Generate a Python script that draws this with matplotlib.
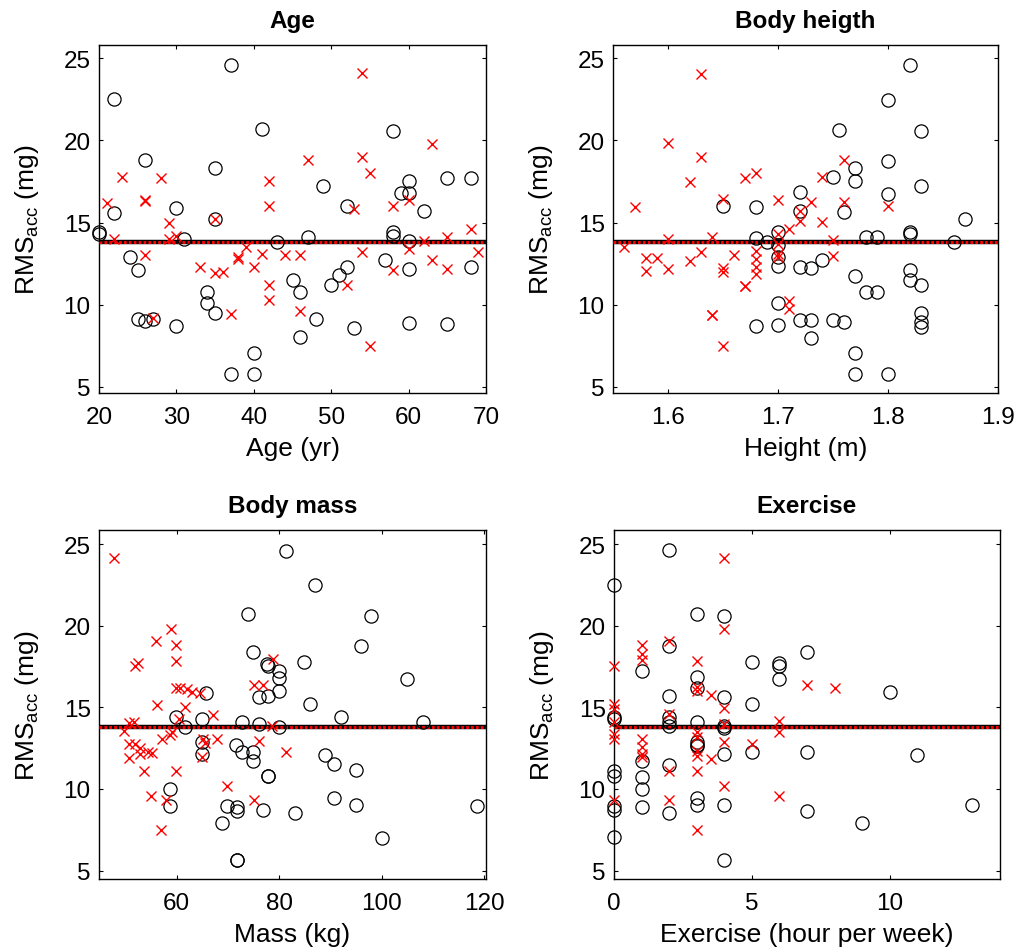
import matplotlib
matplotlib.use("Agg")
import matplotlib.pyplot as plt

plt.rcParams['font.family'] = ['Liberation Sans', 'DejaVu Sans']
plt.rcParams['mathtext.fontset'] = 'custom'
plt.rcParams['mathtext.rm'] = 'Liberation Sans'
plt.rcParams['mathtext.it'] = 'Liberation Sans:italic'

# ---------------- data ----------------
mean_rms = 13.82

# Age panel
age_o = [37, 22, 41, 26, 35, 22, 30, 35, 20, 20, 31, 43, 24, 25, 34, 34, 35, 25, 26, 27, 30, 40, 37, 40,
         58, 49, 60, 59, 60, 65, 68, 52, 62, 58, 58, 60, 47, 57, 60, 68, 52, 51, 50, 45, 46, 48, 53, 60, 65, 46]
rms_age_o = [24.6, 22.5, 20.7, 18.8, 18.3, 15.6, 15.9, 15.2, 14.4, 14.3, 14.0, 13.8, 12.9, 12.1, 10.8, 10.1,
             9.5, 9.1, 9.0, 9.1, 8.7, 7.05, 5.75, 5.75,
             20.6, 17.2, 17.5, 16.8, 16.8, 17.7, 17.7, 16.0, 15.7, 14.4, 14.2, 13.9, 14.1, 12.7, 12.2, 12.3,
             12.3, 11.8, 11.2, 11.5, 10.8, 9.1, 8.6, 8.9, 8.8, 8.0]
age_x = [23, 28, 21, 26, 26, 29, 35, 22, 29, 30, 26, 33, 35, 36, 38, 38, 39, 41, 40, 42, 42, 42, 42, 44, 27, 37,
         54, 63, 47, 54, 55, 53, 58, 60, 68, 65, 62, 60, 54, 69, 46, 63, 65, 58, 52, 46, 55]
rms_age_x = [17.8, 17.7, 16.2, 16.4, 16.3, 15.0, 15.2, 14.0, 14.0, 14.2, 13.0, 12.3, 11.9, 12.0, 12.9, 12.8,
             13.5, 13.1, 12.3, 17.5, 16.0, 11.2, 10.3, 13.0, 9.2, 9.4,
             24.1, 19.8, 18.8, 19.0, 18.0, 15.8, 16.0, 16.4, 14.6, 14.1, 13.9, 13.4, 13.2, 13.2, 13.0, 12.7,
             12.2, 12.1, 11.2, 9.6, 7.5]

# Height panel
height_o = [1.72, 1.65, 1.68, 1.72, 1.68, 1.69, 1.70, 1.70, 1.70, 1.70, 1.72, 1.70, 1.72, 1.68, 1.70,
            1.82, 1.80, 1.755, 1.83, 1.80, 1.77, 1.75, 1.77, 1.83, 1.80, 1.76, 1.87, 1.78, 1.79, 1.82, 1.82,
            1.86, 1.73, 1.74, 1.77, 1.82, 1.82, 1.83, 1.78, 1.79, 1.83, 1.83, 1.83, 1.73, 1.75, 1.76, 1.73,
            1.77, 1.77, 1.80]
rms_height_o = [16.84, 16.03, 15.93, 15.72, 14.04, 13.83, 14.44, 13.63, 12.92, 12.33, 12.29, 10.08, 9.08, 8.68, 8.78,
                24.6, 22.48, 20.66, 20.57, 18.75, 18.34, 17.77, 17.53, 17.25, 16.74, 15.62, 15.2, 14.1, 14.1,
                14.44, 14.32, 13.83, 12.21, 12.72, 11.76, 12.13, 11.53, 11.2, 10.79, 10.79, 9.49, 8.96, 8.62,
                9.08, 9.08, 8.96, 7.97, 7.05, 5.76, 5.76]
height_x = [1.63, 1.60, 1.63, 1.62, 1.67, 1.68, 1.57, 1.65, 1.70, 1.71, 1.72, 1.72, 1.56, 1.60, 1.64, 1.58,
            1.59, 1.58, 1.60, 1.62, 1.63, 1.65, 1.65, 1.66, 1.68, 1.68, 1.68, 1.68, 1.70, 1.70, 1.70, 1.70,
            1.67, 1.67, 1.71, 1.71, 1.64, 1.64, 1.65,
            1.76, 1.74, 1.73, 1.76, 1.80, 1.74, 1.75, 1.75]
rms_height_x = [24.05, 19.84, 19.01, 17.49, 17.71, 18.0, 15.96, 16.43, 16.39, 14.6, 15.72, 15.11, 13.49, 14.0,
                14.1, 12.86, 12.82, 12.05, 12.17, 12.68, 13.19, 12.21, 11.97, 13.0, 13.29, 12.78, 12.27, 11.87,
                14.3, 13.69, 13.08, 12.88, 11.16, 11.16, 10.24, 9.73, 9.37, 9.37, 7.5,
                18.81, 17.79, 16.23, 16.23, 16.03, 15.01, 13.94, 12.98]

# Mass panel
mass_o = [81.4, 74.0, 74.9, 77.7, 77.9, 79.9, 79.9, 79.9, 76.0, 77.9, 65.7, 59.8, 61.6, 64.9, 72.7, 76.0, 79.9,
          65.0, 65.0, 71.6, 72.7, 74.9, 74.9, 77.9, 77.9, 58.7, 58.7, 69.8, 71.7, 71.7, 76.8, 68.8, 71.7, 71.7,
          87.0, 98.0, 96.0, 84.9, 105.0, 86.0, 92.1, 108.0, 88.9, 90.8, 95.1, 90.8, 95.1, 83.0, 100.0, 118.7]
rms_mass_o = [24.6, 20.7, 18.4, 17.65, 17.5, 17.24, 16.8, 16.0, 15.6, 15.7, 15.9, 14.4, 13.8, 14.3, 14.1, 14.0, 13.8,
              12.86, 12.14, 12.7, 12.24, 12.24, 11.73, 10.76, 10.76, 10.0, 8.98, 8.98, 8.92, 8.63, 8.73, 7.92,
              5.67, 5.67,
              22.5, 20.6, 18.76, 17.78, 16.73, 15.2, 14.4, 14.1, 12.1, 11.5, 11.16, 9.45, 9.02, 8.51, 7.0, 8.94]
mass_x = [47.7, 58.8, 56.0, 59.9, 59.9, 51.8, 52.4, 59.9, 60.7, 62.0, 62.9, 64.6, 56.1, 61.6, 60.5, 67.0, 50.7,
          51.7, 49.6, 59.0, 57.1, 58.7, 65.2, 67.8, 65.5, 50.7, 51.8, 52.8, 50.7, 52.8, 54.3, 55.1, 53.6, 59.9,
          65.0, 76.0, 75.0, 76.8, 78.8, 78.6, 69.8, 75.0, 54.9, 57.9, 56.9, 81.4]
rms_mass_x = [24.12, 19.8, 19.04, 18.84, 17.82, 17.55, 17.69, 16.18, 16.18, 16.12, 15.92, 15.86, 15.16, 15.0,
              14.29, 14.55, 14.04, 14.08, 13.53, 13.47, 13.06, 13.31, 13.06, 13.06, 12.8, 12.76, 12.76, 12.51,
              11.9, 12.14, 12.24, 12.18, 11.12, 11.12, 11.94, 12.96, 16.39, 16.39, 17.96, 13.88, 10.2, 9.33,
              9.59, 9.33, 7.49, 12.24]

# Exercise panel
exer_o = [2, 0, 3, 4, 2, 1, 5, 6, 6, 6, 3, 3, 2, 4, 5, 0, 0, 2, 2, 2, 3, 4, 4, 3, 3, 3, 4, 5, 1, 0, 0, 1, 1, 2,
          0, 0, 1, 2, 3, 3, 4, 0, 4, 7, 7, 7, 10, 11, 9, 13]
rms_exer_o = [24.63, 22.51, 20.71, 20.57, 18.78, 17.24, 17.76, 17.69, 17.55, 16.73, 16.84, 16.18, 15.71, 15.61,
              15.2, 14.43, 14.29, 14.43, 14.12, 13.88, 14.08, 13.88, 13.73, 12.86, 12.71, 12.65, 12.14, 12.24,
              11.73, 11.12, 10.82, 10.71, 10.0, 11.49, 8.98, 8.73, 8.92, 8.51, 9.45, 9.02, 9.04, 7.04, 5.67,
              18.37, 12.24, 8.63, 15.92, 12.08, 7.92, 9.02]
exer_x = [4, 4, 2, 1, 1, 1, 0, 3, 3, 3, 3.5, 0, 0, 4, 2, 6, 6, 0, 0, 0, 1, 1, 1, 1, 3, 3, 3, 3, 3.5, 4, 4, 5,
          2, 3, 4, 6, 0, 2, 3, 7, 8]
rms_exer_x = [24.12, 19.8, 19.04, 18.84, 18.27, 17.9, 17.55, 17.86, 16.22, 16.02, 15.78, 15.2, 14.9, 14.96,
              14.59, 14.18, 13.47, 14.08, 13.37, 13.06, 13.06, 12.55, 12.14, 11.94, 13.47, 13.16, 12.35, 12.04,
              11.82, 12.86, 13.98, 12.76, 11.08, 11.12, 10.2, 9.59, 9.29, 9.29, 7.49, 16.39, 16.18]

titles = ["Age", "Body heigth", "Body mass", "Exercise"]
xlabels = ["Age (yr)", "Height (m)", "Mass (kg)", "Exercise (hour per week)"]
yticks = [5, 10, 15, 20, 25]
xticks_list = [[20, 30, 40, 50, 60, 70], [1.6, 1.7, 1.8, 1.9], [60, 80, 100, 120], [0, 5, 10]]
xlims = [(20, 70), (1.55, 1.9), (44.8, 120.4), (0, 14)]

panels = [
    (age_o, rms_age_o, age_x, rms_age_x),
    (height_o, rms_height_o, height_x, rms_height_x),
    (mass_o, rms_mass_o, mass_x, rms_mass_x),
    (exer_o, rms_exer_o, exer_x, rms_exer_x),
]

# ---------------- figure ----------------
W, H = 1023, 953
fig = plt.figure(figsize=(W / 100, H / 100), dpi=100)

boxes = [  # left, top, right, bottom in pixels
    (99, 46, 486, 394),
    (613, 46, 998, 394),
    (99, 531, 486, 880),
    (614, 531, 1000, 880),
]
ylims = [(4.62, 25.81), (4.62, 25.81), (4.48, 25.86), (4.48, 25.86)]

FS_TICK = 17.5
FS_LABEL = 19
FS_TITLE = 17.5
for i, (l, t, r, b) in enumerate(boxes):
    ax = fig.add_axes([l / W, 1 - b / H, (r - l) / W, (b - t) / H])
    xo, yo, xx, yx = panels[i]
    ax.axhline(mean_rms, color='black', lw=3.2, zorder=3)
    ax.axhline(mean_rms, color='red', lw=2.2, ls=(0, (0.9, 0.7)), zorder=4)
    ax.plot(xo, yo, 'o', ms=9.5, mfc='none', mec='black', mew=0.9, clip_on=False, zorder=5)
    ax.plot(xx, yx, 'x', ms=7.5, color='red', mew=1.0, clip_on=False, zorder=6)
    ax.set_xlim(*xlims[i])
    ax.set_ylim(*ylims[i])
    ax.set_xticks(xticks_list[i])
    if i == 1:
        ax.set_xticklabels(["1.6", "1.7", "1.8", "1.9"])
    ax.set_yticks(yticks)
    ax.tick_params(direction='in', length=3, width=0.8, top=True, right=True,
                   labelsize=FS_TICK)
    ax.tick_params(axis='x', pad=9)
    ax.tick_params(axis='y', pad=6)
    for s in ax.spines.values():
        s.set_linewidth(1.0)
    ax.set_title(titles[i], fontsize=FS_TITLE, fontweight='bold', pad=13)
    ax.set_xlabel(xlabels[i], fontsize=FS_LABEL, labelpad=6)
    ax.set_ylabel(r'RMS$_{\mathrm{acc}}$ (mg)', fontsize=FS_LABEL, labelpad=16)

fig.savefig("out.png", dpi=100)
